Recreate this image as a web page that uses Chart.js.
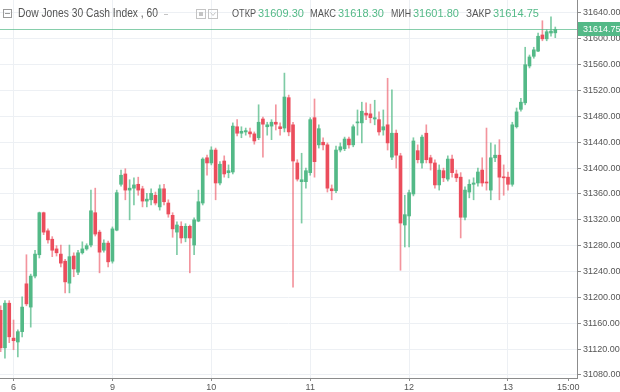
<!DOCTYPE html>
<html>
<head>
<meta charset="utf-8">
<script src="https://cdn.jsdelivr.net/npm/chart.js@4.4.1/dist/chart.umd.min.js"></script>
<style>
  body { margin: 0; background: #fff; }
  canvas { display: block; }
</style>
</head>
<body>
<canvas id="myChart" width="620" height="392"></canvas>
<script>
// Dow Jones 30 Cash Index, hourly candles
const opens = [
  31180, 31122, 31191, 31137, 31131, 31147, 31221, 31185, 31233, 31266,
  31331, 31303, 31290, 31275, 31267, 31256, 31222, 31264, 31239, 31269,
  31275, 31281, 31331, 31301, 31273, 31284, 31256, 31304, 31375, 31391,
  31366, 31369, 31375, 31368, 31349, 31351, 31358, 31340, 31368, 31346,
  31327, 31301, 31310, 31292, 31310, 31281, 31318, 31346, 31416, 31408,
  31428, 31377, 31411, 31393, 31394, 31464, 31454, 31456, 31456, 31453,
  31447, 31476, 31464, 31465, 31471, 31464, 31462, 31509, 31467, 31408,
  31379, 31379, 31393, 31478, 31436, 31440, 31436, 31368, 31365, 31428,
  31430, 31445, 31436, 31470, 31470, 31485, 31484, 31476, 31475, 31459,
  31467, 31417, 31454, 31419, 31312, 31326, 31360, 31427, 31408, 31454,
  31416, 31408, 31374, 31396, 31383, 31414, 31391, 31386, 31324, 31363,
  31375, 31377, 31397, 31378, 31366, 31416, 31420, 31386, 31386, 31375,
  31464, 31491, 31501, 31558, 31573, 31581, 31606, 31600, 31609, 31609.3
];
const highs = [
  31187, 31195, 31195, 31165, 31150, 31201, 31266, 31236, 31273, 31332,
  31332, 31306, 31294, 31280, 31281, 31259, 31281, 31269, 31273, 31286,
  31283, 31366, 31369, 31304, 31289, 31287, 31309, 31366, 31397, 31399,
  31382, 31385, 31386, 31372, 31361, 31368, 31363, 31374, 31375, 31351,
  31331, 31317, 31317, 31314, 31312, 31323, 31366, 31416, 31420, 31433,
  31431, 31410, 31419, 31405, 31470, 31475, 31464, 31462, 31462, 31456,
  31498, 31479, 31471, 31475, 31498, 31470, 31547, 31513, 31471, 31413,
  31423, 31400, 31478, 31507, 31467, 31447, 31439, 31374, 31434, 31439,
  31448, 31448, 31467, 31490, 31502, 31501, 31499, 31505, 31487, 31490,
  31539, 31521, 31459, 31423, 31358, 31366, 31447, 31436, 31451, 31467,
  31420, 31413, 31405, 31400, 31419, 31420, 31397, 31393, 31371, 31382,
  31385, 31400, 31416, 31462, 31439, 31436, 31444, 31405, 31394, 31471,
  31493, 31508, 31587, 31575, 31587, 31609, 31628, 31614, 31634, 31618.3
];
const lows = [
  31116, 31106, 31130, 31119, 31108, 31139, 31187, 31154, 31230, 31261,
  31297, 31284, 31263, 31264, 31247, 31207, 31207, 31232, 31235, 31267,
  31273, 31278, 31295, 31238, 31270, 31247, 31253, 31303, 31372, 31351,
  31320, 31343, 31358, 31340, 31340, 31343, 31343, 31335, 31343, 31324,
  31293, 31266, 31284, 31286, 31238, 31266, 31317, 31343, 31389, 31405,
  31351, 31374, 31386, 31385, 31391, 31450, 31447, 31451, 31448, 31437,
  31444, 31417, 31451, 31444, 31459, 31451, 31456, 31450, 31216, 31380,
  31315, 31369, 31389, 31386, 31431, 31428, 31363, 31351, 31362, 31425,
  31427, 31431, 31433, 31451, 31439, 31475, 31470, 31467, 31451, 31451,
  31428, 31413, 31400, 31242, 31278, 31278, 31357, 31408, 31400, 31408,
  31397, 31369, 31366, 31379, 31380, 31386, 31379, 31292, 31320, 31354,
  31351, 31372, 31372, 31366, 31351, 31410, 31351, 31358, 31366, 31372,
  31462, 31488, 31498, 31555, 31570, 31580, 31597, 31597, 31604, 31601.8
];
const closes = [
  31122, 31191, 31139, 31133, 31147, 31185, 31190, 31233, 31267, 31331,
  31301, 31289, 31273, 31269, 31253, 31224, 31263, 31244, 31269, 31275,
  31280, 31334, 31298, 31270, 31284, 31255, 31306, 31362, 31389, 31366,
  31369, 31374, 31366, 31349, 31352, 31361, 31346, 31368, 31348, 31329,
  31306, 31312, 31292, 31310, 31292, 31320, 31348, 31414, 31408, 31428,
  31377, 31406, 31391, 31396, 31465, 31454, 31457, 31458, 31453, 31442,
  31471, 31468, 31467, 31471, 31468, 31461, 31510, 31456, 31411, 31383,
  31382, 31396, 31475, 31410, 31461, 31436, 31369, 31365, 31428, 31433,
  31445, 31436, 31464, 31471, 31488, 31482, 31478, 31478, 31456, 31464,
  31439, 31454, 31420, 31315, 31328, 31362, 31442, 31413, 31448, 31413,
  31408, 31374, 31397, 31385, 31414, 31393, 31385, 31324, 31366, 31375,
  31377, 31394, 31377, 31377, 31416, 31420, 31386, 31385, 31375, 31467,
  31487, 31502, 31560, 31572, 31583, 31604, 31600, 31611, 31612, 31614.75
];

// time axis: candle index where each label sits
const timeTicks = [3, 26, 49, 72, 95, 118, 132];
const timeLabels = ['6', '9', '10', '11', '12', '13', '15:00'];
const priceTicks = [31080, 31120, 31160, 31200, 31240, 31280, 31320, 31360,
  31400, 31440, 31480, 31520, 31560, 31600, 31640];

const titleText = 'Dow Jones 30 Cash Index , 60';
const ohlcNames = ['ОТКР', 'МАКС', 'МИН', 'ЗАКР'];
const ohlcValues = ['31609.30', '31618.30', '31601.80', '31614.75'];
const lastPrice = 31614.75;

const GREEN = '#53b987';
const RED = '#eb4d5c';
const AXIS_FONT = '"Liberation Sans", Arial, sans-serif';

const up = closes.map((c, i) => c >= opens[i]);
const bodies = opens.map((o, i) => ({ x: i, y: [o, closes[i]] }));
const wicks = lows.map((l, i) => ({ x: i, y: [l, highs[i]] }));

// draw text squeezed to a given width
function fitText(ctx, text, x, y, width) {
    const w = ctx.measureText(text).width;
    ctx.save();
    ctx.translate(x, y);
    ctx.scale(Math.min(1, width / w), 1);
    ctx.fillText(text, 0, 0);
    ctx.restore();
}

const priceLine = {
    id: 'priceLine',
    afterDatasetsDraw(chart) {
        const { ctx, chartArea, scales } = chart;
        const py = Math.round(scales.y.getPixelForValue(lastPrice)) + 0.5;
        ctx.save();
        ctx.strokeStyle = 'rgba(83, 185, 135, 0.7)';
        ctx.lineWidth = 1;
        ctx.beginPath();
        ctx.moveTo(chartArea.left, py);
        ctx.lineTo(chartArea.right, py);
        ctx.stroke();
        ctx.fillStyle = GREEN;
        ctx.fillRect(chartArea.right + 1, py - 7.5, 44, 14);
        ctx.fillStyle = '#fff';
        ctx.font = '9px ' + AXIS_FONT;
        ctx.textBaseline = 'middle';
        ctx.fillText(lastPrice.toFixed(2), chartArea.right + 6, py);
        ctx.restore();
    }
};

const header = {
    id: 'header',
    afterDraw(chart) {
        const ctx = chart.ctx;
        const cy = 14;
        ctx.save();
        // collapse box
        ctx.strokeStyle = '#9a9a9a';
        ctx.lineWidth = 1;
        ctx.strokeRect(3.5, 9.5, 8, 8);
        ctx.beginPath();
        ctx.moveTo(5, 13.5);
        ctx.lineTo(10, 13.5);
        ctx.stroke();

        ctx.font = '12px ' + AXIS_FONT;
        ctx.fillStyle = '#555';
        ctx.textBaseline = 'middle';
        fitText(ctx, titleText, 18, cy, 140);

        // small dash and the two icons
        ctx.strokeStyle = '#c4c4c4';
        ctx.beginPath();
        ctx.moveTo(164, cy + 0.5);
        ctx.lineTo(168, cy + 0.5);
        ctx.stroke();
        ctx.strokeRect(196.5, 9.5, 9, 9);
        ctx.strokeRect(208.5, 9.5, 9, 9);
        ctx.fillStyle = '#c4c4c4';
        ctx.fillRect(199, 12, 4, 4);
        ctx.beginPath();
        ctx.moveTo(210.5, 12.5);
        ctx.lineTo(213, 15.5);
        ctx.lineTo(215.5, 12.5);
        ctx.stroke();

        ctx.font = '11px ' + AXIS_FONT;
        const namesX = [232, 310, 391, 466];
        const namesW = [24, 26, 20, 25];
        const valuesX = [258, 338, 413, 493];
        ohlcNames.forEach((n, k) => {
            ctx.fillStyle = '#555';
            fitText(ctx, n, namesX[k], cy, namesW[k]);
            ctx.fillStyle = GREEN;
            ctx.fillText(ohlcValues[k], valuesX[k], cy);
        });
        ctx.restore();
    }
};

const ctx = document.getElementById('myChart').getContext('2d');
window.myChart = new Chart(ctx, {
    type: 'bar',
    data: {
        datasets: [{
            label: 'body',
            data: bodies,
            backgroundColor: up.map(u => u ? GREEN : RED),
            borderWidth: 0,
            barThickness: 3,
            minBarLength: 1,
            grouped: false,
            order: 0
        }, {
            label: 'wick',
            data: wicks,
            backgroundColor: up.map(u => u ? 'rgba(83, 185, 135, 0.75)' : 'rgba(235, 77, 92, 0.6)'),
            borderWidth: 0,
            barThickness: 1,
            grouped: false,
            order: 1
        }]
    },
    options: {
        responsive: false,
        animation: false,
        layout: { padding: 0 },
        plugins: {
            legend: { display: false },
            tooltip: { enabled: false }
        },
        scales: {
            x: {
                type: 'linear',
                min: -0.15,
                max: 134.05,
                offset: false,
                grid: {
                    offset: false,
                    color: ctx => ctx.tick && ctx.tick.value === 132 ? 'rgba(0,0,0,0)' : '#edf0f4',
                    tickLength: 3,
                    tickColor: '#8c8c8c'
                },
                border: { color: '#8c8c8c' },
                ticks: {
                    color: '#555',
                    font: { family: AXIS_FONT, size: 9 },
                    padding: 1,
                    maxRotation: 0,
                    autoSkip: false,
                    callback: (value, index) => timeLabels[index]
                },
                afterBuildTicks: scale => {
                    scale.ticks = timeTicks.map(v => ({ value: v }));
                },
                afterFit: scale => {
                    scale.height = 14;
                    scale.paddingLeft = 0;
                    scale.paddingRight = 0;
                }
            },
            y: {
                position: 'right',
                min: 31075.3,
                max: 31660.1,
                beginAtZero: false,
                grid: {
                    color: '#edf0f4',
                    tickLength: 4,
                    tickColor: '#8c8c8c'
                },
                border: { color: '#8c8c8c' },
                ticks: {
                    color: '#555',
                    font: { family: AXIS_FONT, size: 9 },
                    padding: 2,
                    callback: value => value.toFixed(2)
                },
                afterBuildTicks: scale => {
                    scale.ticks = priceTicks.map(v => ({ value: v }));
                },
                afterFit: scale => {
                    scale.width = 43;
                    scale.paddingTop = 0;
                    scale.paddingBottom = 0;
                }
            }
        }
    },
    plugins: [priceLine, header]
});
</script>
</body>
</html>
